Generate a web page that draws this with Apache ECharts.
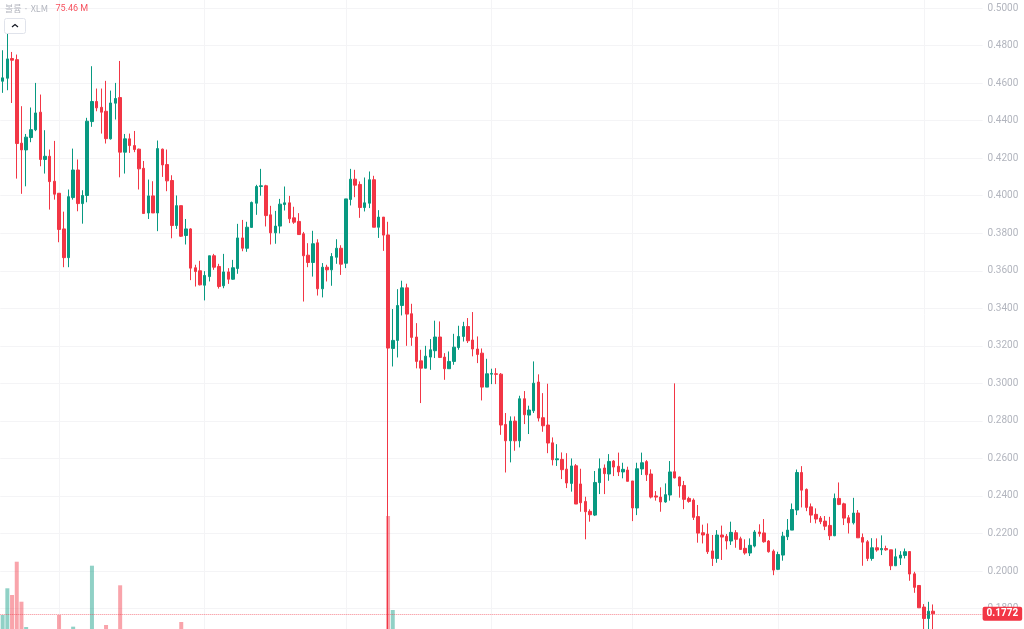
<!DOCTYPE html>
<html>
<head>
<meta charset="utf-8">
<style>
html,body{margin:0;padding:0;background:#fff;}
#chart{width:1024px;height:629px;}
</style>
<script src="https://cdn.jsdelivr.net/npm/echarts@6/dist/echarts.min.js"></script>
</head>
<body>
<div id="chart"></div>
<script>
// daily candles
var opens = [
	.4610,.4626,.4731,.4725,.4280,.4244,.4310,.4351,.4445,.4193,
	.4210,.4077,.4013,.3823,.3670,.3990,.4137,.3958,.4001,.4395,
	.4502,.4471,.4450,.4303,.4493,.4523,.4232,.4303,.4267,.4248,
	.4146,.3908,.3999,.3908,.4248,.4166,.4081,.3841,.3947,.3788,
	.3823,.3616,.3600,.3523,.3569,.3680,.3623,.3520,.3594,.3555,
	.3612,.3775,.3720,.3831,.3960,.4049,.4053,.3898,.3802,.3838,
	.3953,.3962,.3882,.3863,.3797,.3683,.3644,.3749,.3504,.3619,
	.3605,.3672,.3720,.3640,.3980,.4088,.4060,.3937,.3960,.4085,
	.3832,.3886,.3791,.3186,.3229,.3415,.3509,.3371,.3247,.3120,
	.3081,.3140,.3174,.3247,.3140,.3078,.3117,.3191,.3250,.3303,
	.3231,.3183,.3161,.2980,.3049,.3051,.3049,.2781,.2694,.2799,
	.2694,.2918,.2831,.2854,.3007,.2817,.2778,.2683,.2593,.2595,
	.2543,.2467,.2561,.2464,.2371,.2318,.2298,.2471,.2549,.2517,
	.2586,.2558,.2528,.2538,.2480,.2336,.2544,.2583,.2517,.2400,
	.2394,.2368,.2405,.2529,.2501,.2456,.2387,.2378,.2290,.2204,
	.2197,.2107,.2067,.2192,.2185,.2160,.2204,.2172,.2121,.2096,
	.2133,.2208,.2203,.2160,.2106,.2009,.2085,.2183,.2218,.2325,
	.2525,.2435,.2342,.2302,.2282,.2266,.2243,.2188,.2387,.2358,
	.2284,.2257,.2309,.2179,.2156,.2067,.2124,.2113,.2120,.2113,
	.2028,.2069,.2083,.2104,.1985,.1923,.1808,.1747,.1786
];
var closes = [
	.4628,.4729,.4722,.4278,.4244,.4312,.4352,.4441,.4193,.4210,
	.4075,.4008,.3820,.3670,.3995,.4137,.3958,.4001,.4397,.4502,
	.4468,.4445,.4304,.4494,.4518,.4232,.4303,.4267,.4246,.4143,
	.3905,.3999,.3908,.4251,.4164,.4079,.3841,.3947,.3784,.3823,
	.3614,.3596,.3525,.3575,.3680,.3619,.3516,.3594,.3555,.3616,
	.3775,.3720,.3832,.3964,.4049,.4053,.3894,.3802,.3838,.3955,
	.3962,.3877,.3859,.3793,.3680,.3644,.3744,.3504,.3619,.3605,
	.3676,.3720,.3635,.3983,.4088,.4056,.3937,.3962,.4085,.3832,
	.3886,.3790,.3188,.3229,.3415,.3509,.3369,.3245,.3117,.3081,
	.3145,.3179,.3247,.3138,.3078,.3117,.3193,.3250,.3303,.3227,
	.3183,.3154,.2980,.3051,.3053,.3048,.2778,.2694,.2799,.2694,
	.2918,.2833,.2858,.3001,.2815,.2774,.2682,.2593,.2598,.2540,
	.2469,.2560,.2357,.2364,.2316,.2300,.2472,.2545,.2519,.2584,
	.2554,.2528,.2542,.2478,.2336,.2545,.2577,.2513,.2394,.2394,
	.2368,.2407,.2528,.2496,.2453,.2382,.2371,.2286,.2202,.2192,
	.2103,.2067,.2192,.2181,.2160,.2206,.2169,.2115,.2096,.2137,
	.2208,.2199,.2156,.2103,.2005,.2088,.2186,.2218,.2328,.2525,
	.2431,.2339,.2298,.2277,.2263,.2239,.2188,.2387,.2355,.2282,
	.2257,.2309,.2177,.2154,.2067,.2124,.2112,.2120,.2113,.2028,
	.2076,.2085,.2103,.1984,.1913,.1804,.1747,.1786,.1772
];
var lows = [
	.4548,.4562,.4494,.4091,.4010,.4050,.4285,.4344,.4157,.4118,
	.3926,.3979,.3752,.3619,.3619,.3979,.3917,.3851,.3965,.4367,
	.4450,.4331,.4278,.4299,.4406,.4098,.4118,.4228,.4232,.4033,
	.3905,.3876,.3908,.3811,.4100,.4024,.3773,.3823,.3780,.3740,
	.3550,.3516,.3522,.3442,.3543,.3605,.3505,.3507,.3530,.3552,
	.3584,.3704,.3701,.3831,.3898,.4000,.3836,.3740,.3744,.3799,
	.3921,.3854,.3850,.3793,.3436,.3619,.3569,.3468,.3458,.3543,
	.3520,.3637,.3578,.3614,.3948,.3992,.3882,.3916,.3934,.3832,
	.3775,.3706,.1600,.3090,.3138,.3362,.3200,.3200,.3080,.2895,
	.3080,.3072,.3135,.3135,.3019,.3078,.3099,.3179,.3223,.3215,
	.3144,.3108,.2909,.2980,.2996,.2996,.2726,.2525,.2579,.2641,
	.2659,.2783,.2730,.2842,.2797,.2742,.2628,.2563,.2560,.2490,
	.2442,.2423,.2357,.2316,.2169,.2263,.2293,.2410,.2410,.2481,
	.2506,.2506,.2494,.2478,.2266,.2298,.2512,.2480,.2387,.2375,
	.2316,.2364,.2375,.2494,.2391,.2330,.2364,.2272,.2151,.2147,
	.2091,.2027,.2044,.2059,.2115,.2139,.2124,.2112,.2087,.2080,
	.2126,.2183,.2151,.2098,.1978,.2005,.2055,.2165,.2218,.2298,
	.2339,.2319,.2257,.2254,.2250,.2218,.2165,.2186,.2351,.2245,
	.2200,.2248,.2177,.2028,.2053,.2055,.2103,.2085,.2108,.2005,
	.2028,.2032,.2067,.1948,.1884,.1804,.1680,.1680,.1680
];
var highs = [
	.4775,.4867,.4766,.4752,.4477,.4329,.4470,.4601,.4539,.4349,
	.4246,.4292,.4013,.3915,.4033,.4251,.4193,.4029,.4415,.4690,
	.4571,.4571,.4612,.4560,.4601,.4718,.4329,.4331,.4345,.4251,
	.4185,.4086,.4077,.4294,.4251,.4246,.4109,.4001,.3947,.3876,
	.3827,.3632,.3653,.3598,.3680,.3690,.3637,.3690,.3614,.3658,
	.3850,.3871,.3861,.3969,.4058,.4143,.4058,.3946,.3919,.3983,
	.4049,.3999,.3941,.3907,.3807,.3747,.3813,.3768,.3641,.3632,
	.3694,.3768,.3736,.3983,.4143,.4138,.4076,.4097,.4129,.4106,
	.3923,.3886,.3861,.3396,.3502,.3547,.3531,.3424,.3321,.3179,
	.3200,.3236,.3334,.3330,.3161,.3170,.3264,.3307,.3328,.3348,
	.3380,.3250,.3186,.3131,.3078,.3081,.3055,.2842,.2824,.2824,
	.2934,.2959,.2881,.3117,.3048,.2948,.2998,.2712,.2676,.2632,
	.2628,.2600,.2570,.2545,.2396,.2329,.2533,.2600,.2568,.2623,
	.2591,.2631,.2577,.2556,.2480,.2577,.2631,.2591,.2542,.2426,
	.2446,.2467,.2586,.3000,.2503,.2480,.2396,.2387,.2352,.2247,
	.2254,.2192,.2218,.2242,.2197,.2263,.2218,.2183,.2169,.2174,
	.2218,.2249,.2277,.2165,.2115,.2103,.2209,.2277,.2360,.2541,
	.2559,.2440,.2360,.2334,.2293,.2293,.2289,.2413,.2472,.2364,
	.2298,.2390,.2325,.2200,.2165,.2175,.2174,.2190,.2135,.2113,
	.2120,.2106,.2120,.2104,.1996,.1925,.1824,.1836,.1822
];
// volume in millions: only the bars that reach into the visible part of the pane, plus the last one from the header
var volumeIndex = [0,1,2,3,4,5,12,15,19,22,25,38,82,83,198];
var volumeValues = [121.5,193.6,175.5,265.4,157.4,89,121.5,90,254.6,94.5,201.7,102.6,388.8,135,75.46];
// first candle of each month, where the vertical grid lines sit
var monthStarts = [12,43,73,104,134,165,196];
var lastPrice = 0.1772;
var slotCount = 209;

var UP = '#089981';
var DOWN = '#f23645';
var GRID = '#f4f4f6';
var LABEL = '#b2b5be';

var categories = [];
for (var i = 0; i < slotCount; i++) {
	categories.push(i);
}
var candleData = opens.map(function (o, i) {
	return [o, closes[i], lows[i], highs[i]];
});
var volumeData = categories.map(function () { return null; });
volumeIndex.forEach(function (idx, i) {
	volumeData[idx] = {
		value: volumeValues[i],
		itemStyle: { color: closes[idx] >= opens[idx] ? UP : DOWN, opacity: 0.45 }
	};
});

var chart = echarts.init(document.getElementById('chart'));
chart.setOption({
	animation: false,
	backgroundColor: '#fff',
	textStyle: { fontFamily: 'Roboto' },
	title: {
		left: 5,
		top: 0,
		padding: 0,
		text: '{a|볼륨 · XLM} {b|75.46 M}',
		textStyle: {
			fontWeight: 'normal',
			rich: {
				a: { color: LABEL, fontSize: 9, fontFamily: 'Noto Sans CJK KR' },
				b: { color: '#f7525f', fontSize: 9, fontFamily: 'Roboto', padding: [0, 0, 0, 3] }
			}
		}
	},
	grid: [
		{ left: 0.3, top: -29.5, width: 982.3, height: 675.6, outerBoundsMode: 'none' },
		{ left: 0.3, top: 500, width: 982.3, height: 160, outerBoundsMode: 'none' }
	],
	xAxis: [
		{
			type: 'category',
			gridIndex: 0,
			data: categories,
			axisLine: { show: false },
			axisTick: { show: false },
			axisLabel: { show: false },
			splitLine: {
				show: true,
				alignWithLabel: true,
				interval: function (idx) { return monthStarts.indexOf(idx) >= 0; },
				lineStyle: { color: GRID, width: 1 }
			}
		},
		{
			type: 'category',
			gridIndex: 1,
			data: categories,
			axisLine: { show: false },
			axisTick: { show: false },
			axisLabel: { show: false }
		}
	],
	yAxis: [
		{
			type: 'value',
			gridIndex: 0,
			position: 'right',
			min: 0.16,
			max: 0.52,
			interval: 0.02,
			axisLine: { show: false },
			axisTick: { show: false },
			axisLabel: {
				color: LABEL,
				fontSize: 10,
				margin: 5,
				padding: [2, 0, 0, 0],
				formatter: function (v) { return v.toFixed(4); }
			},
			splitLine: { lineStyle: { color: GRID, width: 1 } }
		},
		{
			type: 'value',
			gridIndex: 1,
			min: 0,
			max: 432,
			axisLine: { show: false },
			axisTick: { show: false },
			axisLabel: { show: false },
			splitLine: { show: false }
		}
	],
	series: [
		{
			name: 'Volume',
			type: 'bar',
			xAxisIndex: 1,
			yAxisIndex: 1,
			barWidth: 4,
			z: 1,
			data: volumeData
		},
		{
			name: 'XLM',
			type: 'candlestick',
			xAxisIndex: 0,
			yAxisIndex: 0,
			barWidth: 3,
			z: 2,
			itemStyle: {
				color: UP,
				color0: DOWN,
				borderColor: UP,
				borderColor0: DOWN,
				borderWidth: 1
			},
			data: candleData,
			markLine: {
				silent: true,
				symbol: 'none',
				animation: false,
				precision: 4,
				lineStyle: { color: 'rgba(242,54,69,0.6)', type: 'dotted', width: 1, opacity: 1 },
				label: {
					position: 'end',
					distance: 0,
					formatter: lastPrice.toFixed(4),
					color: '#fff',
					fontSize: 10,
					fontWeight: 'bold',
					backgroundColor: DOWN,
					borderRadius: 2,
					padding: [2, 4, 2, 4]
				},
				data: [{ yAxis: lastPrice }]
			}
		}
	],
	graphic: [
		{
			type: 'rect',
			shape: { x: 4.5, y: 18.5, width: 21, height: 15, r: 2 },
			style: { fill: '#fff', stroke: '#e0e3eb', lineWidth: 1 },
			z: 10
		},
		{
			type: 'polyline',
			shape: { points: [[12, 27], [15, 24.5], [18, 27]] },
			style: { fill: null, stroke: '#131722', lineWidth: 1.2 },
			z: 11
		}
	]
});
</script>
</body>
</html>
